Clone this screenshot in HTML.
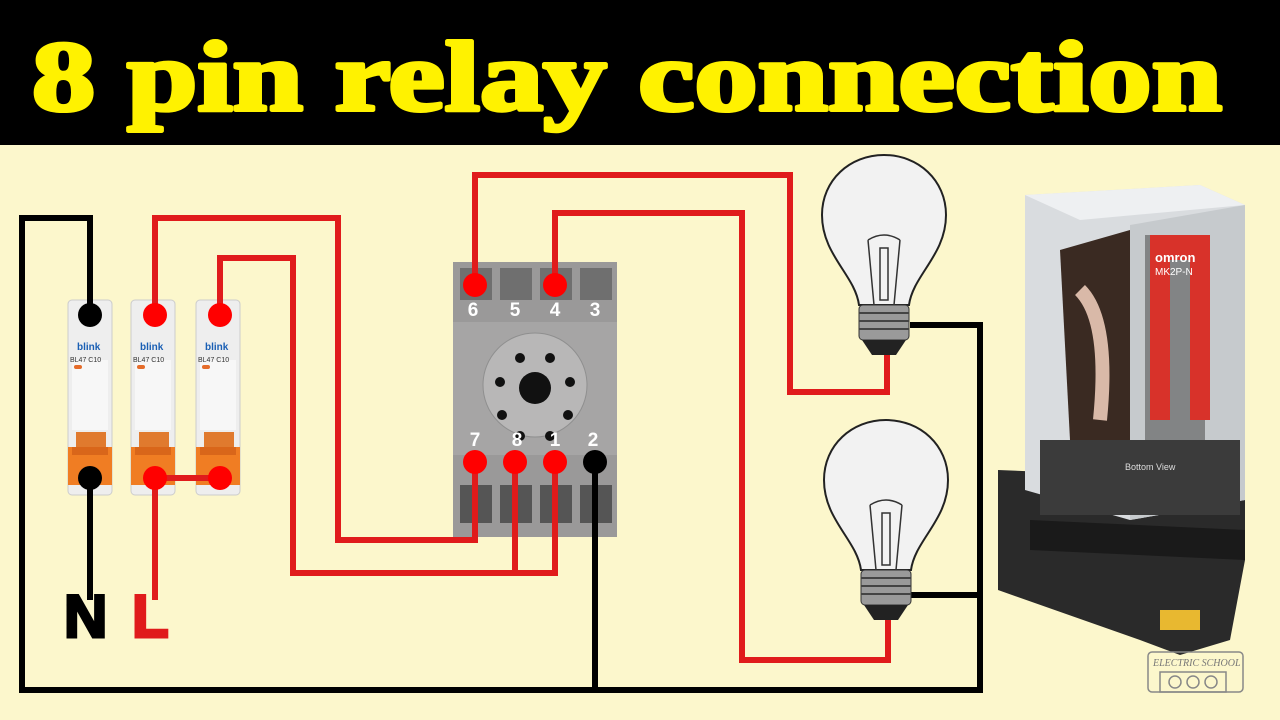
<!DOCTYPE html>
<html><head><meta charset="utf-8"><style>html,body{margin:0;padding:0;background:#fcf7cc}svg{display:block}</style></head>
<body>
<svg width="1280" height="720" viewBox="0 0 1280 720" xmlns="http://www.w3.org/2000/svg">
<rect width="1280" height="720" fill="#fcf7cc"/>
<rect width="1280" height="145" fill="#000"/>
<text x="32" y="110" font-family="Liberation Serif, serif" font-weight="bold" font-size="100" fill="#fff200" stroke="#fff200" stroke-width="4" stroke-linejoin="round" textLength="1190" lengthAdjust="spacingAndGlyphs">8 pin relay connection</text>

<!-- breakers -->
<g>
 <g id="b">
  <rect x="68" y="300" width="44" height="195" rx="4" fill="#eeeeee" stroke="#ccc"/>
  <rect x="72" y="360" width="36" height="70" fill="#f7f7f7"/>
  <text x="77" y="350" font-family="Liberation Sans, sans-serif" font-weight="bold" font-size="10" fill="#1a5fb4">blink</text>
  <text x="70" y="362" font-family="Liberation Sans, sans-serif" font-size="7" fill="#333">BL47 C10</text>
  <rect x="74" y="365" width="8" height="4" rx="2" fill="#e56c2a"/>
  <rect x="76" y="432" width="30" height="16" fill="#e07a2e"/>
  <rect x="68" y="447" width="44" height="38" fill="#f07d23"/>
  <rect x="72" y="447" width="36" height="8" fill="#d9661a"/>
 </g>
 <use href="#b" x="63"/>
 <use href="#b" x="128"/>
</g>

<!-- socket -->
<g>
 <rect x="453" y="262" width="164" height="275" fill="#a6a5a5"/>
 <rect x="453" y="262" width="164" height="60" fill="#9a9999"/>
 <rect x="453" y="455" width="164" height="82" fill="#9a9999"/>
 <g fill="#6f6f6f"><rect x="460" y="268" width="32" height="32"/><rect x="500" y="268" width="32" height="32"/><rect x="540" y="268" width="32" height="32"/><rect x="580" y="268" width="32" height="32"/>
 <rect x="460" y="485" width="32" height="38" fill="#555"/><rect x="500" y="485" width="32" height="38" fill="#555"/><rect x="540" y="485" width="32" height="38" fill="#555"/><rect x="580" y="485" width="32" height="38" fill="#555"/></g>
 <circle cx="535" cy="385" r="52" fill="#b8b7b7" stroke="#8f8f8f"/>
 <circle cx="535" cy="388" r="16" fill="#111"/>
 <g fill="#111"><circle cx="520" cy="358" r="5"/><circle cx="550" cy="358" r="5"/><circle cx="500" cy="382" r="5"/><circle cx="570" cy="382" r="5"/><circle cx="502" cy="415" r="5"/><circle cx="568" cy="415" r="5"/><circle cx="520" cy="436" r="5"/><circle cx="550" cy="436" r="5"/></g>
 <g font-family="Liberation Sans, sans-serif" font-weight="bold" font-size="19" fill="#fff" text-anchor="middle">
  <text x="473" y="316">6</text><text x="515" y="316">5</text><text x="555" y="316">4</text><text x="595" y="316">3</text>
  <text x="475" y="446">7</text><text x="517" y="446">8</text><text x="555" y="446">1</text><text x="593" y="446">2</text>
 </g>
</g>

<!-- wires -->
<g fill="none" stroke-width="6" stroke-linejoin="miter">
 <path d="M90 315V218H22V690H980V325H910M910 595H980M595 462V690M90 480V600" stroke="#000"/>
 <path d="M155 315V218H338V540H475V462M220 315V258H293V573H555V462M515 573V462M155 478H220M155 478V600M475 285V175H790V392H887V355M555 285V213H742V660H888V620" stroke="#e01b1b"/>
</g>
<g fill="#000"><circle cx="90" cy="315" r="12"/><circle cx="90" cy="478" r="12"/><circle cx="595" cy="462" r="12"/></g>
<g fill="#ff0000"><circle cx="155" cy="315" r="12"/><circle cx="220" cy="315" r="12"/><circle cx="155" cy="478" r="12"/><circle cx="220" cy="478" r="12"/><circle cx="475" cy="285" r="12"/><circle cx="555" cy="285" r="12"/><circle cx="475" cy="462" r="12"/><circle cx="515" cy="462" r="12"/><circle cx="555" cy="462" r="12"/></g>
<text x="64" y="637" font-family="Liberation Sans, sans-serif" font-weight="bold" font-size="60" fill="#000" stroke="#000" stroke-width="3">N</text>
<text x="132" y="637" font-family="Liberation Sans, sans-serif" font-weight="bold" font-size="60" fill="#e01b1b" stroke="#e01b1b" stroke-width="3">L</text>

<!-- lamps -->
<g id="lamp">
 <path d="M859 305 C855 275 822 255 822 215 C822 180 850 155 884 155 C918 155 946 180 946 215 C946 255 913 275 909 305 Z" fill="#f2f2f2" stroke="#222" stroke-width="2"/>
 <path d="M868 240 L874 305 M900 240 L894 305 M868 240 Q884 230 900 240 M880 248V300H888V248Z" fill="none" stroke="#333" stroke-width="1.5"/>
 <rect x="859" y="305" width="50" height="35" rx="4" fill="#9a9a9a" stroke="#333"/>
 <path d="M859 313H909M859 321H909M859 329H909" stroke="#444" stroke-width="2"/>
 <path d="M862 340H906L896 355H872Z" fill="#222"/>
</g>
<use href="#lamp" x="2" y="265"/>

<!-- relay photo approximation -->
<g>
 <path d="M998 470L1245 480V560L1230 640L1180 655L1140 640L998 590Z" fill="#2a2a2a"/>
 <path d="M1030 520L1245 530V560L1030 550Z" fill="#1a1a1a"/>
 <path d="M1025 195L1200 185L1245 205V500L1130 520L1025 490Z" fill="#d9dcdf"/>
 <path d="M1025 195L1200 185L1245 205L1080 220Z" fill="#eef0f2"/>
 <path d="M1130 225L1245 205V500L1130 520Z" fill="#c6cacd"/>
 <path d="M1060 250L1130 230V460L1070 440Z" fill="#3a2a22"/>
 <path d="M1080 290Q1110 320 1100 420" stroke="#d9b9a8" stroke-width="14" fill="none"/>
 <rect x="1145" y="235" width="60" height="230" fill="#555" opacity="0.6"/>
 <path d="M1150 235H1210V420H1190V260H1170V420H1150Z" fill="#d8322a"/>
 <rect x="1040" y="440" width="200" height="75" fill="#3b3b3b"/>
 <text x="1155" y="262" font-family="Liberation Sans, sans-serif" font-size="13" fill="#fff" font-weight="bold">omron</text>
 <text x="1155" y="275" font-family="Liberation Sans, sans-serif" font-size="10" fill="#fff">MK2P-N</text>
 <text x="1125" y="470" font-family="Liberation Sans, sans-serif" font-size="9" fill="#ddd">Bottom View</text>
 <rect x="1160" y="610" width="40" height="20" fill="#e8b830"/>
</g>
<g fill="none" stroke="#888" stroke-width="1.5">
 <rect x="1148" y="652" width="95" height="40" rx="4"/>
 <rect x="1160" y="672" width="66" height="20"/>
 <circle cx="1175" cy="682" r="6"/><circle cx="1193" cy="682" r="6"/><circle cx="1211" cy="682" r="6"/>
</g>
<text x="1153" y="666" font-family="Liberation Serif, serif" font-style="italic" font-size="10" fill="#777">ELECTRIC SCHOOL</text>
</svg>
</body></html>
